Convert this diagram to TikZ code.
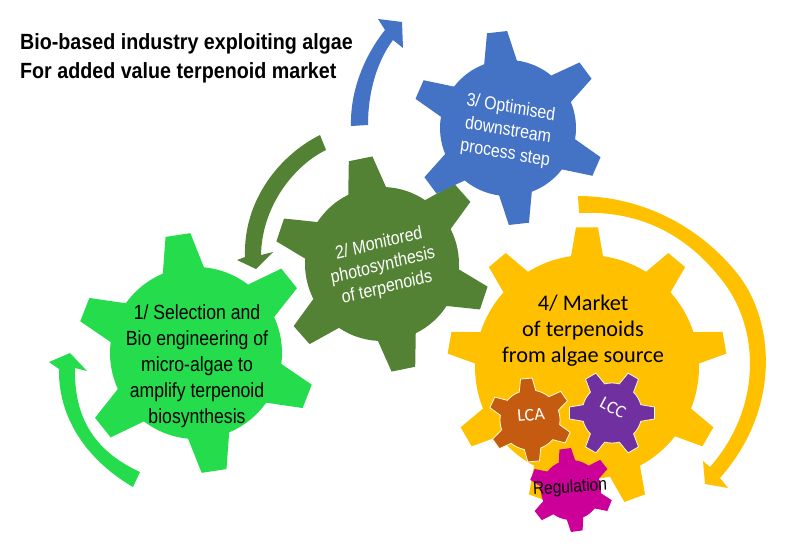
\documentclass[tikz,border=0pt]{standalone}
\usepackage{fontspec}
\setmainfont{Liberation Sans}
\newfontfamily\calibrifont{Carlito}
\usepackage{tikz}
\definecolor{verdeuno}{HTML}{24DC4C}
\definecolor{verdedos}{HTML}{548235}
\definecolor{azultres}{HTML}{4472C4}
\definecolor{oro}{HTML}{FFC000}
\definecolor{ocre}{HTML}{C55A11}
\definecolor{morado}{HTML}{7030A0}
\definecolor{magenta2}{HTML}{CC0099}
\tikzset{
  textoarial/.style 2 args={align=center, xscale=.86, font=\fontsize{#1}{#2}\selectfont},
  textocal/.style 2 args={align=center, font=\calibrifont\fontsize{#1}{#2}\selectfont},
  chico/.style={fill=#1, draw=white!85!yellow, line width=.8pt}
}
% x, y, giro, dientes, r, R, medio angulo base, medio angulo punta, estilo
\newcommand{\engrane}[9]{
  \begin{scope}[shift={(#1,#2)}]
    \path[#9] (#3-#7:#5) \foreach \k [evaluate=\k as \a using #3+(\k-1)*360/#4] in {1,...,#4}{
      -- (\a-#7:#5) -- (\a-#8:#6) -- (\a+#8:#6) -- (\a+#7:#5)
      arc[start angle=\a+#7, end angle=\a+360/#4-#7, radius=#5]
    } -- cycle;
  \end{scope}
}
\begin{document}
\begin{tikzpicture}[x=1pt, y=1pt]
    \useasboundingbox (0,0) rectangle (791,550); % Marco de la figura
    % Engranes
    \engrane{196}{197}{38.7}{6}{86}{120}{14}{6}{fill=verdeuno}
    \engrane{382}{286}{41.5}{6}{77}{108}{14.5}{6.4}{fill=verdedos}
    \engrane{508}{422}{36.5}{6}{68}{97}{14}{6}{fill=azultres}
    \engrane{587}{183}{90}{9}{112}{140}{8.2}{4.5}{fill=oro}
    \engrane{530}{130}{35}{6}{30}{42}{16}{8}{chico=ocre}
    \engrane{612}{137}{0}{6}{30}{43}{16}{8}{chico=morado}
    \engrane{571}{60}{38}{6}{30}{42}{16}{8}{fill=magenta2}
    % Flechas
    \fill[azultres] (351,424) .. controls (350,460) and (365,495) .. (385,520) -- (378,531)
      -- (402,528) -- (403,502) -- (393,510) .. controls (378,490) and (368,460) .. (368,425) -- cycle;
    \fill[verdedos] (320,415) .. controls (280,395) and (243,350) .. (245,293) -- (237,290)
      -- (256,281) -- (273,298) -- (261,295) .. controls (262,345) and (295,385) .. (326,400) -- cycle;
    \fill[verdeuno] (133,63) .. controls (95,85) and (58,125) .. (59,181) -- (49,188)
      -- (70,197) -- (87,179) -- (75,182) .. controls (74,135) and (92,100) .. (140,78) -- cycle;
    \fill[oro] (578,354) .. controls (640,354) and (700,325) .. (740,273)
      .. controls (775,225) and (780,140) .. (720,72) -- (728,62) -- (705,66) -- (703,89) -- (710,83)
      .. controls (760,140) and (760,215) .. (727,263) .. controls (690,315) and (640,340) .. (579,337) -- cycle;
    % Textos
    \node[anchor=west, align=left, xscale=.895, font=\bfseries\fontsize{22}{29}\selectfont] (titulo) at (17,491.5) {Bio-based industry exploiting algae\\For added value terpenoid market};
    \node[textoarial={20.5}{26}] (uno) at (197,184) {1/ Selection and\\Bio engineering of\\micro-algae to\\amplify terpenoid\\biosynthesis};
    \node[textoarial={18.5}{22.5}, text=white, rotate=12] (dos) at (383,284) {2/ Monitored\\photosynthesis\\of terpenoids};
    \node[textoarial={18.5}{23}, text=white, rotate=-8.6] (tres) at (508,419) {3/ Optimised\\downstream\\process step};
    \node[textocal={22.3}{26}] (cuatro) at (583,219) {4/ Market\\of terpenoids\\from algae source};
    \node[textocal={18}{20}, text=white, rotate=5] (lca) at (531,135) {LCA};
    \node[textocal={18}{20}, text=white, rotate=-28] (lcc) at (613,142) {LCC};
    \node[textoarial={18}{20}, rotate=3] (regul) at (570,62) {Regulation};
\end{tikzpicture}
\end{document}
